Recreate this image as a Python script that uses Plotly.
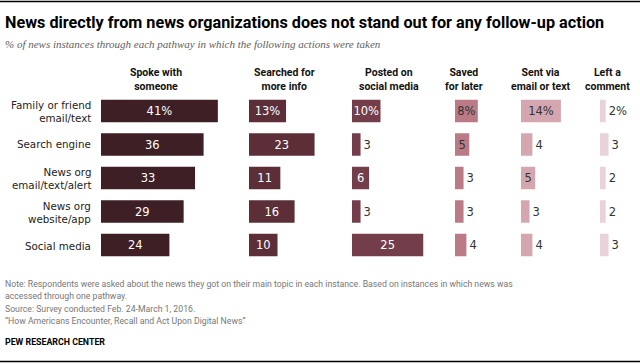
import plotly.graph_objects as go

W, H = 640, 364

pathways = ["Family or friend<br>email/text", "Search engine", "News org<br>email/text/alert",
            "News org<br>website/app", "Social media"]
actions = ["Spoke with<br>someone", "Searched for<br>more info", "Posted on<br>social media",
           "Saved<br>for later", "Sent via<br>email or text", "Left a<br>comment"]
spoke = [41, 36, 33, 29, 24]
searched = [13, 23, 11, 16, 10]
posted = [10, 3, 6, 3, 25]
saved = [8, 5, 3, 3, 4]
sent = [14, 4, 5, 3, 4]
comment = [2, 3, 2, 2, 3]
series = [spoke, searched, posted, saved, sent, comment]

colors = ["#3d1f25", "#5b2e38", "#733e4a", "#ba7b86", "#d4a7b0", "#e9d3d8"]
inside_color = ["#ffffff", "#ffffff", "#ffffff", "#333333", "#333333", "#333333"]
# column left edge in px and axis max
col_start = [101, 249, 352, 455, 521, 600]
col_max = [45, 30, 30, 20, 25, 13]
header_x = [156, 284, 389, 464, 540, 607]
PPU = 2.85
# which bars hold their label inside
inside = [
    [True] * 5,
    [True] * 5,
    [True, False, True, False, True],
    [True, True, False, False, False],
    [True, False, True, False, False],
    [False] * 5,
]

def px(x):
    return x / W

def py(y):
    return 1 - y / H

fig = go.Figure()
layout = {}
for i, vals in enumerate(series):
    ax = "x" if i == 0 else f"x{i+1}"
    texts = [f"{v}%" if j == 0 else str(v) for j, v in enumerate(vals)]
    pos = ["inside" if f else "outside" for f in inside[i]]
    tcol = [inside_color[i] if f else "#333333" for f in inside[i]]
    fig.add_trace(go.Bar(
        y=pathways, x=vals, orientation="h", xaxis=ax, yaxis="y",
        marker=dict(color=colors[i], line=dict(width=0)),
        text=texts, textposition=pos, insidetextanchor="middle",
        textfont=dict(color=tcol, size=11.5, family="DejaVu Sans"),
        constraintext="none", cliponaxis=False, showlegend=False, hoverinfo="skip",
    ))
    x0 = col_start[i]
    x1 = x0 + PPU * col_max[i]
    layout["xaxis" if i == 0 else f"xaxis{i+1}"] = dict(
        domain=[px(x0), min(px(x1), 1)], range=[0, col_max[i]], visible=False,
        anchor="y", fixedrange=True)
    # header
    fig.add_annotation(x=px(header_x[i]), y=py(79),
                       xref="paper", yref="paper", text=f"<b>{actions[i]}</b>",
                       showarrow=False, xanchor="center", yanchor="middle",
                       font=dict(size=10.5, color="#111111", family="Roboto, Arial"),
                       align="center")

fig.update_layout(**layout)
fig.update_layout(
    width=W, height=H, margin=dict(l=0, r=0, t=0, b=0),
    paper_bgcolor="white", plot_bgcolor="white",
    bargap=0.33,
    yaxis=dict(domain=[py(261.75), py(94.25)], categoryorder="array", categoryarray=pathways,
               range=[4.5, -0.5], visible=False, fixedrange=True),
    font=dict(family="DejaVu Sans"),
)

# row labels
row_y = [111, 144.5, 178, 212, 245.5]
for lab, yy in zip(pathways, row_y):
    fig.add_annotation(x=px(93), y=py(yy), xref="paper", yref="paper", text=lab,
                       showarrow=False, xanchor="right", yanchor="middle", align="right",
                       font=dict(size=10.3, color="#222222", family="DejaVu Sans"))

# title, subtitle
fig.add_annotation(x=px(3), y=py(22), xref="paper", yref="paper",
                   text="<b>News directly from news organizations does not stand out for any follow-up action</b>",
                   showarrow=False, xanchor="left", yanchor="middle",
                   font=dict(size=16.2, color="#000000", family="Roboto, Arial"))
fig.add_annotation(x=px(3), y=py(44), xref="paper", yref="paper",
                   text="<i>% of news instances through each pathway in which the following actions were taken</i>",
                   showarrow=False, xanchor="left", yanchor="middle",
                   font=dict(size=11, color="#5e5e5e", family="Liberation Serif, DejaVu Serif"))

notes = ["Note: Respondents were asked about the news they got on their main topic in each instance. Based on instances in which news was",
         "accessed through one pathway.",
         "Source: Survey conducted Feb. 24-March 1, 2016.",
         "\u201cHow Americans Encounter, Recall and Act Upon Digital News\u201d"]
note_y = [284, 296, 308.5, 321]
for line, yy in zip(notes, note_y):
    fig.add_annotation(x=px(3), y=py(yy), xref="paper", yref="paper", text=line,
                       showarrow=False, xanchor="left", yanchor="middle", align="left",
                       font=dict(size=8.7, color="#777777", family="Roboto, Arial"))
fig.add_annotation(x=px(3), y=py(342), xref="paper", yref="paper", text="<b>PEW RESEARCH CENTER</b>",
                   showarrow=False, xanchor="left", yanchor="middle",
                   font=dict(size=8.8, color="#000000", family="Roboto, Arial"))

# top and bottom rules
fig.add_shape(type="line", xref="paper", yref="paper", x0=0, x1=1, y0=py(1.5), y1=py(1.5),
              line=dict(color="#000000", width=1.5))
fig.add_shape(type="line", xref="paper", yref="paper", x0=0, x1=1, y0=py(361.5), y1=py(361.5),
              line=dict(color="#000000", width=1.5))

fig.write_html("out.html", config={"displayModeBar": False},
               post_script="document.body.style.margin='0';")
